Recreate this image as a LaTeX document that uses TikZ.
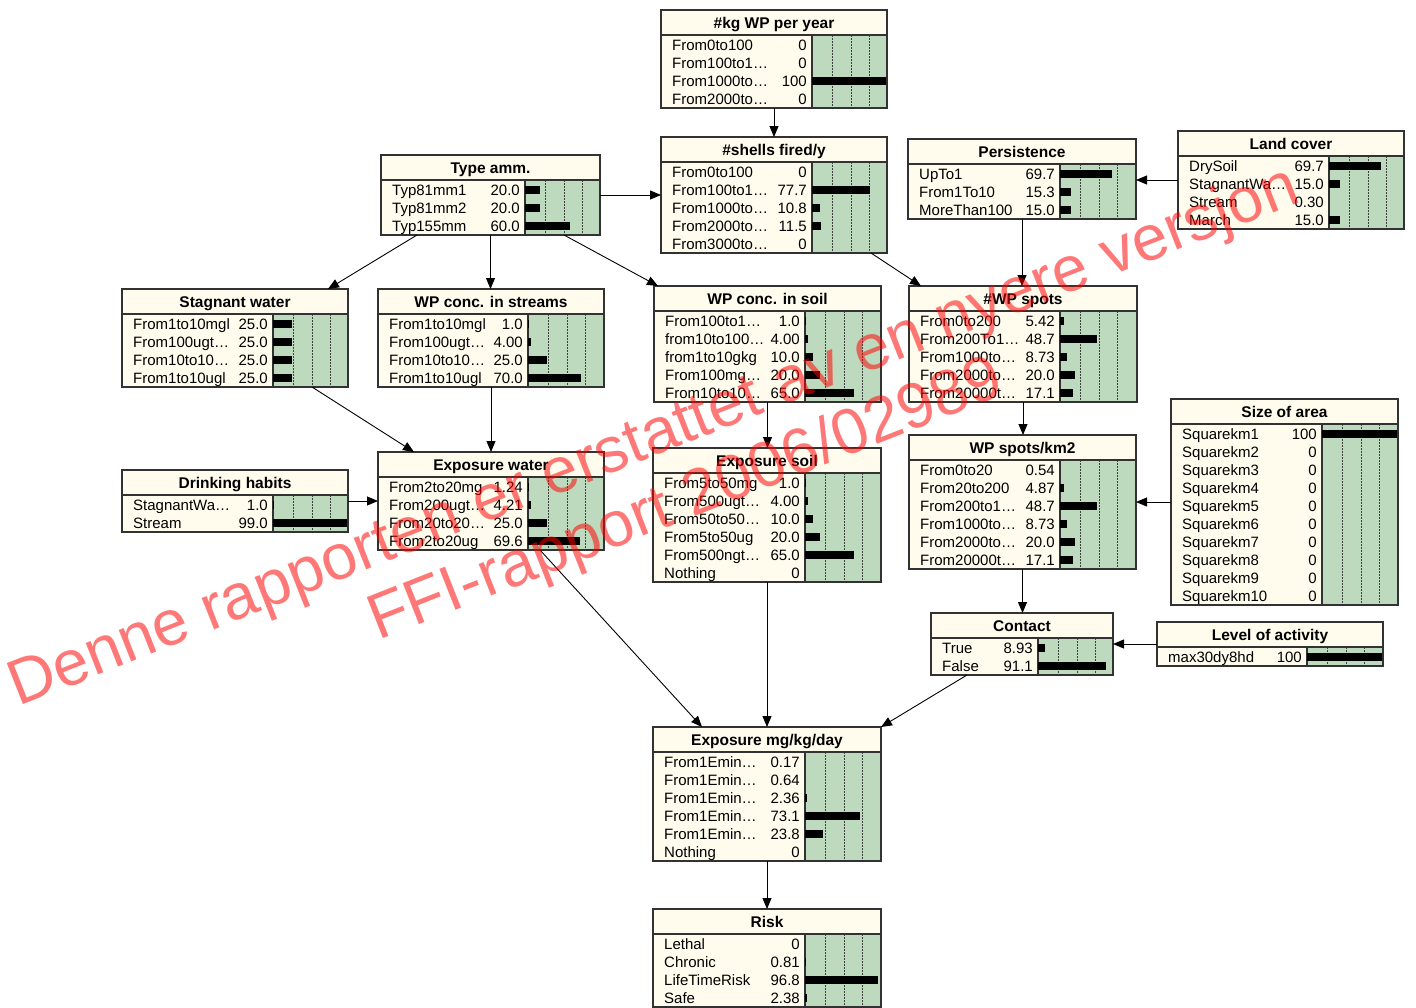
\documentclass[tikz,border=0pt]{standalone}
\usepackage{fontspec}
\setmainfont{Liberation Sans}
\usetikzlibrary{arrows.meta,calc}
\definecolor{cream}{RGB}{255,252,238}
\definecolor{bngreen}{RGB}{190,218,190}
\definecolor{framec}{RGB}{50,50,50}
\tikzset{
  bnframe/.style={draw=framec, line width=1.3pt},
  bnbox/.style={rectangle, draw=framec, line width=1.3pt, inner sep=0pt, outer sep=0pt, anchor=north west},
  titletext/.style={font=\bfseries\fontsize{15.5}{17}\selectfont, inner sep=0pt, anchor=base},
  rowtext/.style={font=\fontsize{15}{17}\selectfont, inner sep=0pt},
  dotline/.style={draw=black!75, line width=0.8pt, dash pattern=on 1.5pt off 1.5pt},
  link/.style={draw=black, line width=0.9pt, -{Triangle[length=11pt,width=9pt]}},
  wmark/.style={font=\fontsize{64}{70}\selectfont, text=red, text opacity=0.53, inner sep=0pt, anchor=base west, rotate=21.5},
}
% #1 name, #2 left, #3 top, #4 right, #5 green x, #6 number of rows, #7 title, #8 rows
\newcommand{\bnnode}[8]{%
  \pgfmathsetmacro{\bnB}{#3+26+18*#6}%
  \pgfmathsetmacro{\bnW}{#4-#2}%
  \pgfmathsetmacro{\bnH}{\bnB-#3}%
  \fill[cream] (#2,#3) rectangle (#5,\bnB);
  \fill[cream] (#2,#3) rectangle (#4,#3+25);
  \fill[bngreen] (#5,#3+25) rectangle (#4,\bnB);
  \foreach \dx in {20,39,57} \draw[dotline] (#5+\dx,#3+25) -- (#5+\dx,\bnB);
  \draw[bnframe] (#2,#3+25) -- (#4,#3+25);
  \draw[bnframe] (#5,#3+25) -- (#5,\bnB);
  \node[titletext] (#1-title) at ({(#2+#4)/2},#3+18) {#7};
  \foreach \lab/\val [count=\i] in {#8} {%
    \pgfmathsetmacro{\ry}{#3+34.5+18*(\i-1)}%
    \node[rowtext, anchor=base west] (#1-lab\i) at (#2+11,\ry+5.5) {\lab};
    \node[rowtext, anchor=base east] (#1-val\i) at (#5-5,\ry+5.5) {\val};
    \pgfmathsetmacro{\bl}{\val*0.75}%
    \ifdim\bl pt>0.5pt
      \pgfmathsetmacro{\bl}{max(\bl,1.3)}%
      \fill[black] (#5,\ry-4) rectangle (#5+\bl,\ry+4);
    \fi
  }
  \node[bnbox, minimum width=\bnW pt, minimum height=\bnH pt] (#1) at (#2,#3) {};
}
\begin{document}
\begin{tikzpicture}[x=1pt,y=-1pt]
\useasboundingbox (0,0) rectangle (1416,1007);
\fill[white] (0,0) rectangle (1416,1007);

\bnnode{kg}{661}{10}{887}{812}{4}{\#kg WP per year}{From0to100/0, From100to1…/0, From1000to…/100, From2000to…/0}
\bnnode{shells}{661}{137}{887}{812}{5}{\#shells fired/y}{From0to100/0, From100to1…/77.7, From1000to…/10.8, From2000to…/11.5, From3000to…/0}
\bnnode{type}{381}{155}{600}{525}{3}{Type amm.}{Typ81mm1/20.0, Typ81mm2/20.0, Typ155mm/60.0}
\bnnode{pers}{908}{139}{1136}{1060}{3}{Persistence}{UpTo1/69.7, From1To10/15.3, MoreThan100/15.0}
\bnnode{land}{1178}{131}{1404}{1329}{4}{Land cover}{DrySoil/69.7, StagnantWa…/15.0, Stream/0.30, March/15.0}
\bnnode{stag}{122}{289}{348}{273}{4}{Stagnant water}{From1to10mgl/25.0, From100ugt…/25.0, From10to10…/25.0, From1to10ugl/25.0}
\bnnode{streams}{378}{289}{604}{528}{4}{WP conc. in streams}{From1to10mgl/1.0, From100ugt…/4.00, From10to10…/25.0, From1to10ugl/70.0}
\bnnode{soil}{654}{286}{881}{805}{5}{WP conc. in soil}{From100to1…/1.0, from10to100…/4.00, from1to10gkg/10.0, From100mg…/20.0, From10to10…/65.0}
\bnnode{wpspots}{909}{286}{1137}{1060}{5}{\#WP spots}{From0to200/5.42, From200To1…/48.7, From1000to…/8.73, From2000to…/20.0, From20000t…/17.1}
\bnnode{drink}{122}{470}{348}{273}{2}{Drinking habits}{StagnantWa…/1.0, Stream/99.0}
\bnnode{expwater}{378}{452}{604}{528}{4}{Exposure water}{From2to20mg/1.24, From200ugt…/4.21, From20to20…/25.0, From2to20ug/69.6}
\bnnode{expsoil}{653}{448}{881}{805}{6}{Exposure soil}{From5to50mg/1.0, From500ugt…/4.00, From50to50…/10.0, From5to50ug/20.0, From500ngt…/65.0, Nothing/0}
\bnnode{km2}{909}{435}{1136}{1060}{6}{WP spots/km2}{From0to20/0.54, From20to200/4.87, From200to1…/48.7, From1000to…/8.73, From2000to…/20.0, From20000t…/17.1}
\bnnode{size}{1171}{399}{1398}{1322}{10}{Size of area}{Squarekm1/100, Squarekm2/0, Squarekm3/0, Squarekm4/0, Squarekm5/0, Squarekm6/0, Squarekm7/0, Squarekm8/0, Squarekm9/0, Squarekm10/0}
\bnnode{level}{1157}{622}{1383}{1307}{1}{Level of activity}{max30dy8hd/100}
\bnnode{contact}{931}{613}{1113}{1038}{2}{Contact}{True/8.93, False/91.1}
\bnnode{expday}{653}{727}{881}{805}{6}{Exposure mg/kg/day}{From1Emin…/0.17, From1Emin…/0.64, From1Emin…/2.36, From1Emin…/73.1, From1Emin…/23.8, Nothing/0}
\bnnode{risk}{653}{909}{881}{805}{4}{Risk}{Lethal/0, Chronic/0.81, LifeTimeRisk/96.8, Safe/2.38}

\draw[link] (kg.south) -- (shells.north);
\draw[link] (type.east) -- (shells.west |- type.east);
\draw[link] ($(type.south west)+(36,0)$) -- ($(stag.north west)+(206,0)$);
\draw[link] (type.south) -- (type.south |- streams.north);
\draw[link] ($(type.south west)+(183,0)$) -- ($(soil.north west)+(4,0)$);
\draw[link] ($(shells.south west)+(210,0)$) -- ($(wpspots.north west)+(12,0)$);
\draw[link] (pers.south) -- (pers.south |- wpspots.north);
\draw[link] (land.west) -- (pers.east |- land.west);
\draw[link] ($(stag.south west)+(190,0)$) -- ($(expwater.north west)+(36,0)$);
\draw[link] (streams.south) -- (streams.south |- expwater.north);
\draw[link] (soil.south) -- (soil.south |- expsoil.north);
\draw[link] (wpspots.south) -- (wpspots.south |- km2.north);
\draw[link] (size.west) -- (km2.east |- size.west);
\draw[link] (drink.east) -- (expwater.west |- drink.east);
\draw[link] (km2.south) -- (km2.south |- contact.north);
\draw[link] (level.west) -- (contact.east |- level.west);
\draw[link] ($(expwater.south west)+(162,0)$) -- ($(expday.north west)+(49,0)$);
\draw[link] (expsoil.south) -- (expsoil.south |- expday.north);
\draw[link] ($(contact.south west)+(36,0)$) -- (expday.north east);
\draw[link] (expday.south) -- (risk.north);

\node[wmark] (wm1) at (18,707) {Denne rapporten er erstattet av en nyere versjon};
\node[wmark] (wm2) at (378,641) {FFI-rapport 2006/02989};
\end{tikzpicture}
\end{document}
